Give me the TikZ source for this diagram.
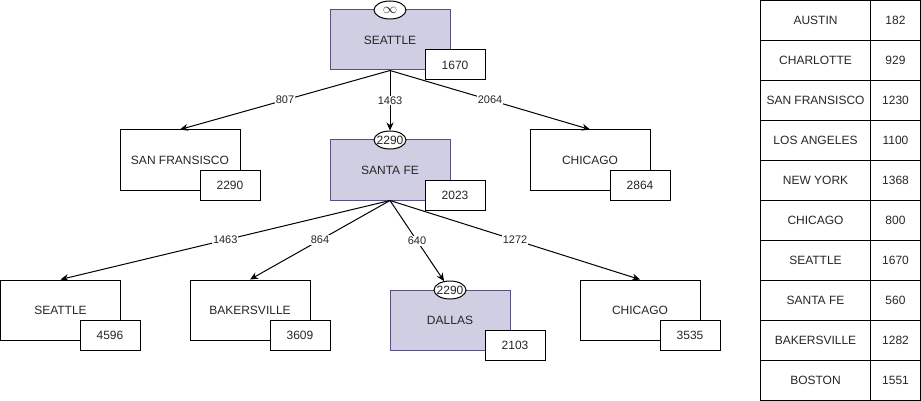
\documentclass[tikz,border=0pt]{standalone}
\usepackage{fontspec}
\setmainfont{Liberation Sans}
\usetikzlibrary{shapes.geometric,arrows.meta}
\definecolor{lav}{HTML}{D0CEE2}
\definecolor{lavline}{HTML}{56517E}
\tikzset{
  city/.style={draw, minimum width=120pt, minimum height=60pt, inner sep=0pt},
  open/.style={city, fill=lav, draw=lavline},
  cost/.style={draw, fill=white, minimum width=60pt, minimum height=30pt, inner sep=0pt},
  tag/.style={draw, ellipse, fill=white, minimum width=32pt, minimum height=18pt, inner sep=0pt},
  road/.style={draw, -{Stealth[length=8pt,width=7pt]}},
  dist/.style={fill=white, inner sep=1pt, font=\fontsize{11}{13}\selectfont},
  cell/.style={draw, minimum height=40pt, inner sep=0pt}
}
\begin{document}
\begin{tikzpicture}[x=1pt,y=-1pt,line width=1pt,font=\fontsize{12}{14}\selectfont,text=black!85]
\useasboundingbox (0,0) rectangle (921,401);
% top
\node[open] (sea) at (390,40) {SEATTLE};
\node[cost] (seac) at (455,65) {1670};
\node[tag] (seat) at (390,10) {\makebox[0pt]{\fontsize{15}{15}\selectfont$\infty$}};
% second row
\node[city] (sfo) at (180,160) {SAN FRANSISCO};
\node[cost] (sfoc) at (230,185) {2290};
\node[open] (stf) at (390,170) {SANTA FE};
\node[cost] (stfc) at (455,195) {2023};
\node[tag] (stft) at (390,140) {\makebox[0pt]{2290}};
\node[city] (chi) at (590,160) {CHICAGO};
\node[cost] (chic) at (640,185) {2864};
% third row
\node[city] (sea2) at (60.5,310) {SEATTLE};
\node[cost] (sea2c) at (110,335) {4596};
\node[city] (bak) at (250,310) {BAKERSVILLE};
\node[cost] (bakc) at (300,335) {3609};
\node[open] (dal) at (450,320) {DALLAS};
\node[cost] (dalc) at (515,345) {2103};
\node[tag] (dalt) at (450,290) {\makebox[0pt]{2290}};
\node[city] (chi2) at (640,310) {CHICAGO};
\node[cost] (chi2c) at (690,335) {3535};

\path[road] (sea.south) -- node[dist] (d1) {807} (sfo.north);
\path[road] (sea.south) -- node[dist] (d2) {1463} (stft);
\path[road] (sea.south) -- node[dist] (d3) {2064} (chi.north);
\path[road] (stf.south) -- node[dist] (d4) {1463} (sea2.north);
\path[road] (stf.south) -- node[dist] (d5) {864} (bak.north);
\path[road] (stf.south) -- node[dist] (d6) {640} (dalt);
\path[road] (stf.south) -- node[dist] (d7) {1272} (chi2.north);

% table
\foreach \i/\c/\v in {0/AUSTIN/182,1/CHARLOTTE/929,2/SAN FRANSISCO/1230,3/LOS ANGELES/1100,4/NEW YORK/1368,5/CHICAGO/800,6/SEATTLE/1670,7/SANTA FE/560,8/BAKERSVILLE/1282,9/BOSTON/1551}
{
  \node[cell, minimum width=110pt] (n\i) at (815.5,{20.5+40*\i}) {\c};
  \node[cell, minimum width=50pt] (v\i) at (895.5,{20.5+40*\i}) {\v};
}
\end{tikzpicture}
\end{document}
